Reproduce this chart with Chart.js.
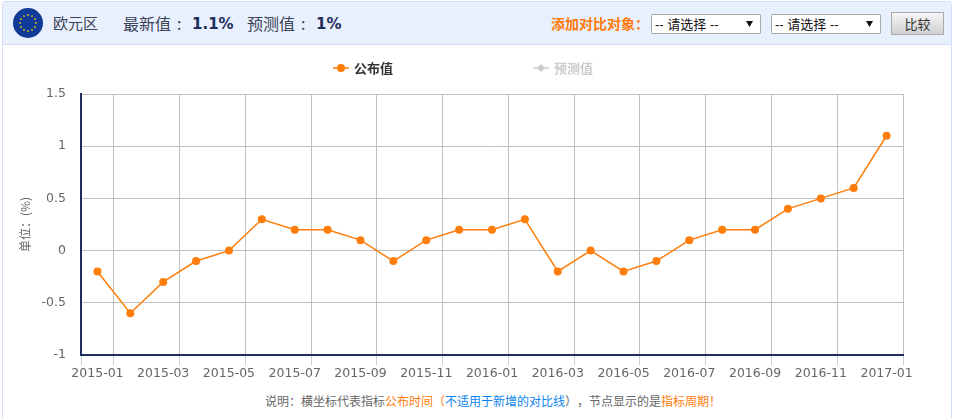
<!DOCTYPE html>
<html>
<head>
<meta charset="utf-8">
<script src="https://cdn.jsdelivr.net/npm/chart.js@4/dist/chart.umd.min.js"></script>
<style>
  html, body { margin: 0; padding: 0; background: #fff; }
  body { width: 954px; height: 418px; overflow: hidden; position: relative; font-family: "Noto Sans CJK SC", sans-serif; color: #333; }
  #panel { position: absolute; left: 2px; top: 1px; width: 948px; height: 430px; border: 1px solid #d3defa; border-radius: 3px; }
  #head { position: absolute; left: 0; top: 0; width: 948px; height: 42px; background: #e9f0fd; border-bottom: 1px solid #d3defa; }
  #head span, #head select, #head button { position: absolute; }
  .lbl { font-size: 16px; line-height: 20px; top: 11px; color: #3a4257; white-space: nowrap; }
  .val { font: bold 15px/20px "DejaVu Sans", sans-serif; top: 12px; color: #1f2d5c; }
  #flag { position: absolute; left: 10px; top: 6px; }
  #add { font-size: 14px; font-weight: bold; color: #ff7a0a; top: 11px; left: 548px; line-height: 20px; white-space: nowrap; text-spacing-trim: space-all; }
  select { top: 12px; height: 20px; font: 13px "Liberation Sans", "Noto Sans CJK SC", sans-serif; color: #111; border: 1px solid #aaa; box-sizing: border-box; padding: 0 0 0 3px; appearance: none; border-radius: 1px;
    background: #fff url("data:image/svg+xml,%3Csvg xmlns='http://www.w3.org/2000/svg' width='7' height='6'%3E%3Cpath d='M0 0H7L3.5 6Z' fill='%23111'/%3E%3C/svg%3E") no-repeat right 7px center; }
  #cmp { left: 888px; top: 10px; width: 53px; height: 23px; font-size: 13px; color: #333; border: 1px solid #aaa; background: linear-gradient(#f6f6f6, #d0d0d0); padding: 0; font-family: "Noto Sans CJK SC", sans-serif; }
  #wrap { position: absolute; left: 0; top: 50px; width: 954px; height: 336px; }
  .leg { position: absolute; top: 59px; font-size: 13px; font-weight: bold; line-height: 18px; white-space: nowrap; }
  .leg canvas { position: absolute; left: 0; top: 4px; }
  .leg span { position: absolute; left: 21px; top: 0; }
  #note { position: absolute; left: 265px; top: 392px; font-size: 12px; line-height: 18px; color: #666; white-space: nowrap; text-spacing-trim: space-all; }
  #note b { font-weight: normal; color: #ff7a0a; }
  #note i { font-style: normal; color: #0a84f0; }
</style>
</head>
<body>
<div id="panel">
  <div id="head">
    <svg id="flag" width="30" height="30" viewBox="0 0 30 30">
      <circle cx="15" cy="15" r="15" fill="#0f3a96"></circle>
      <g id="stars" fill="#e8c020"></g>
    </svg>
    <span class="lbl" style="left:50px;font-size:15px">欧元区</span>
    <span class="lbl" style="left:120px">最新值</span>
    <span class="lbl" style="left:174px">:</span>
    <span class="val" style="left:189px">1.1%</span>
    <span class="lbl" style="left:244px">预测值</span>
    <span class="lbl" style="left:298px">:</span>
    <span class="val" style="left:313px">1%</span>
    <span id="add">添加对比对象：</span>
    <select style="left:648px;width:110px"><option>-- 请选择 --</option></select>
    <select style="left:768px;width:110px"><option>-- 请选择 --</option></select>
    <button id="cmp">比较</button>
  </div>
</div>
<div id="wrap"><canvas id="chart"></canvas></div>
<div id="legend"></div>
<div id="note">说明：横坐标代表指标<b>公布时间（</b><i>不适用于新增的对比线</i>），节点显示的是<b>指标周期！</b></div>
<script>
const months = ['2015-01','2015-02','2015-03','2015-04','2015-05','2015-06','2015-07','2015-08','2015-09','2015-10','2015-11','2015-12',
  '2016-01','2016-02','2016-03','2016-04','2016-05','2016-06','2016-07','2016-08','2016-09','2016-10','2016-11','2016-12','2017-01'];
const published = [-0.2,-0.6,-0.3,-0.1,0,0.3,0.2,0.2,0.1,-0.1,0.1,0.2,0.2,0.3,-0.2,0,-0.2,-0.1,0.1,0.2,0.2,0.4,0.5,0.6,1.1];
const forecast = [];
const yTicks = [-1,-0.5,0,0.5,1,1.5];

const ORANGE = '#ff7d0a', NAVY = '#1f2d5c', GREY = '#c0c0c0';

// ring of stars on the flag
const stars = document.getElementById('stars');
for (let i = 0; i < 12; i++) {
  const a = i * Math.PI / 6;
  const c = document.createElementNS('http://www.w3.org/2000/svg', 'circle');
  c.setAttribute('cx', 15 + 8 * Math.cos(a));
  c.setAttribute('cy', 15 + 8 * Math.sin(a));
  c.setAttribute('r', 0.9);
  stars.appendChild(c);
}

// html legend: chart.js ties item gap to legend height, so it can't do this spacing
function addLegend(text, color, left, diamond) {
  const box = document.createElement('div');
  box.className = 'leg';
  box.style.left = left + 'px';
  box.style.color = diamond ? '#ccc' : '#333';
  const c = document.createElement('canvas');
  c.width = 16; c.height = 10;
  const g = c.getContext('2d');
  g.strokeStyle = color; g.fillStyle = color; g.lineWidth = 1.5;
  g.beginPath(); g.moveTo(0, 5); g.lineTo(16, 5); g.stroke();
  g.beginPath();
  if (diamond) { g.moveTo(8, 1); g.lineTo(12, 5); g.lineTo(8, 9); g.lineTo(4, 5); g.closePath(); }
  else g.arc(8, 5, 4, 0, Math.PI * 2);
  g.fill();
  const s = document.createElement('span');
  s.textContent = text;
  box.append(c, s);
  document.getElementById('legend').appendChild(box);
}
addLegend('公布值', ORANGE, 333, false);
addLegend('预测值', '#ccc', 533, true);

new Chart(document.getElementById('chart'), {
  type: 'line',
  data: {
    labels: months,
    datasets: [
      { label: '公布值', data: published, borderColor: ORANGE, backgroundColor: ORANGE, borderWidth: 1.5, pointRadius: 4, pointBorderWidth: 0, pointHoverRadius: 4, tension: 0 },
      { label: '预测值', data: forecast, borderColor: '#ccc', backgroundColor: '#ccc', hidden: true }
    ]
  },
  options: {
    responsive: true,
    maintainAspectRatio: false,
    animation: false,
    layout: { padding: { top: 44, right: 51, bottom: 0, left: 18 } },
    plugins: { tooltip: { enabled: false }, legend: { display: false } },
    scales: {
      x: {
        offset: true,
        afterFit: s => { s.height = 31; },
        grid: {
          offset: true,
          tickLength: 10,
          color: ctx => (ctx.index === undefined || ctx.index % 2 === 1) ? GREY : 'transparent',
          tickColor: ctx => (ctx.index === undefined || ctx.index % 2 === 1 || ctx.index === 0) ? '#c0d0e0' : 'transparent'
        },
        border: { color: NAVY, width: 2 },
        ticks: {
          autoSkip: false, maxRotation: 0, minRotation: 0, padding: 1,
          color: '#666',
          font: { family: '"DejaVu Sans", sans-serif', size: 12.5 },
          callback: (v, i) => i % 2 === 0 ? months[i] : ''
        }
      },
      y: {
        min: -1, max: 1.5,
        afterBuildTicks: s => { s.ticks = yTicks.map(v => ({ value: v })); },
        afterFit: s => { s.width = 63; },
        grid: { color: GREY, drawTicks: false },
        border: { color: NAVY, width: 2 },
        title: { display: true, text: '单位：(%)', color: '#666', font: { family: '"Noto Sans CJK SC", sans-serif', size: 12 }, padding: 0 },
        ticks: {
          padding: 15, color: '#666',
          font: { family: '"DejaVu Sans", sans-serif', size: 12.5 },
          callback: v => String(v)
        }
      }
    }
  }
});
</script>
</body>
</html>
